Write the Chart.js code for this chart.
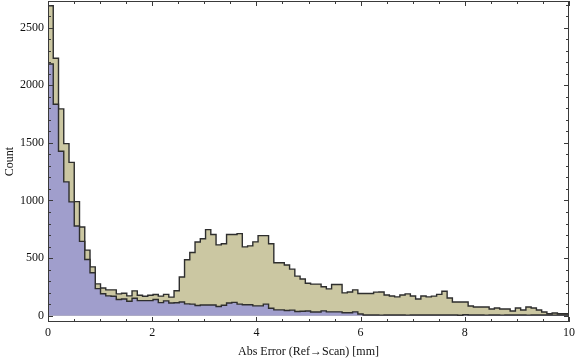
<!DOCTYPE html>
<html>
<head>
<meta charset="utf-8">
<script src="https://cdn.jsdelivr.net/npm/chart.js@4"></script>
<style>
  html, body { margin: 0; padding: 0; background: #fff; }
  canvas { display: block; }
</style>
</head>
<body>
<canvas id="hist" width="576" height="362"></canvas>
<script>
// histogram bins: 100 bins starting at 0
const binWidth = 0.1008;

// total counts (khaki histogram)
const totalCounts = [
  2691, 2235, 1795, 1494, 1331, 990, 770, 569, 424, 276,
  240, 224, 224, 189, 195, 172, 215, 177, 169, 177,
  184, 170, 185, 161, 216, 336, 485, 548, 640, 668,
  747, 705, 615, 625, 705, 705, 712, 597, 606, 641,
  695, 695, 625, 459, 459, 440, 404, 343, 318, 282,
  274, 274, 251, 233, 270, 270, 198, 206, 224, 192,
  192, 192, 204, 206, 180, 171, 163, 180, 189, 171,
  145, 171, 163, 170, 185, 212, 154, 119, 119, 119,
  84, 75, 75, 75, 58, 67, 58, 58, 41, 67,
  49, 75, 67, 49, 32, 17, 23, 17, 17, 17
];

// subset counts (blue histogram)
const subsetCounts = [
  2185, 1835, 1427, 1162, 988, 779, 645, 488, 372, 235,
  190, 172, 168, 140, 145, 125, 151, 131, 131, 131,
  140, 113, 128, 110, 112, 118, 102, 100, 88, 93,
  93, 93, 80, 90, 110, 115, 100, 95, 95, 85,
  85, 100, 65, 50, 50, 45, 48, 36, 38, 40,
  32, 32, 42, 33, 33, 33, 25, 25, 33, 15,
  6, 6, 6, 5, 6, 6, 6, 6, 5, 6,
  6, 6, 6, 6, 6, 6, 6, 6, 3, 8,
  6, 6, 6, 5, 6, 6, 5, 6, 6, 6,
  6, 5, 6, 6, 6, 6, 5, 6, 6, 6
];

const xTicks = [0, 2, 4, 6, 8, 10];
const yTicks = [0, 500, 1000, 1500, 2000, 2500];
const xMinorStep = 0.5;
const yMinorStep = 100;

const serif = '"Liberation Serif", "DejaVu Serif", serif';

// points at bin left edges, plus closing edge so last step extends
function toSteps(counts) {
  const pts = counts.map((c, i) => ({ x: i * binWidth, y: c }));
  pts.push({ x: counts.length * binWidth, y: counts[counts.length - 1] });
  return pts;
}

// frame with inward ticks on all four sides (Mathematica style)
const framePlugin = {
  id: 'frame',
  afterDatasetsDraw(chart) {
    const { ctx, chartArea: a, scales: { x, y } } = chart;
    ctx.save();
    ctx.strokeStyle = '#3a3a3a';
    ctx.lineWidth = 1;
    ctx.strokeRect(a.left + 0.5, a.top + 0.5, a.right - a.left - 1, a.bottom - a.top - 1);

    ctx.beginPath();
    for (let v = 0; v <= 10 + 1e-9; v += xMinorStep) {
      const px = Math.round(x.getPixelForValue(v)) + 0.5;
      const len = xTicks.includes(Math.round(v * 10) / 10) ? 5 : 3;
      ctx.moveTo(px, a.bottom);
      ctx.lineTo(px, a.bottom - len);
      ctx.moveTo(px, a.top);
      ctx.lineTo(px, a.top + len);
    }
    for (let v = 0; v <= 2700; v += yMinorStep) {
      const py = Math.round(y.getPixelForValue(v)) + 0.5;
      const len = yTicks.includes(v) ? 5 : 3;
      ctx.moveTo(a.left, py);
      ctx.lineTo(a.left + len, py);
      ctx.moveTo(a.right, py);
      ctx.lineTo(a.right - len, py);
    }
    ctx.stroke();
    ctx.restore();
  }
};

new Chart(document.getElementById('hist'), {
  type: 'line',
  data: {
    datasets: [
      {
        label: 'subset',
        data: toSteps(subsetCounts),
        stepped: true,
        fill: 'origin',
        backgroundColor: '#a09ecc',
        borderColor: '#2e2e2e',
        borderWidth: 1.4,
        pointRadius: 0,
        order: 0
      },
      {
        label: 'total',
        data: toSteps(totalCounts),
        stepped: true,
        fill: 'origin',
        backgroundColor: '#cbc7a2',
        borderColor: '#2e2e2e',
        borderWidth: 1.4,
        pointRadius: 0,
        order: 1
      }
    ]
  },
  options: {
    responsive: false,
    animation: false,
    layout: { padding: { top: 1, right: 7, left: 0, bottom: 0 } },
    plugins: {
      legend: { display: false },
      tooltip: { enabled: false }
    },
    scales: {
      x: {
        type: 'linear',
        min: 0,
        max: 10,
        grid: { display: false, drawTicks: false },
        border: { display: false },
        afterBuildTicks: (s) => { s.ticks = xTicks.map(v => ({ value: v })); },
        afterFit: (s) => { s.height = 40; s.paddingLeft = 0; s.paddingRight = 0; },
        ticks: {
          padding: 4,
          color: '#111',
          maxRotation: 0,
          callback: (v) => String(v),
          font: { family: serif, size: 12 }
        },
        title: {
          display: true,
          text: 'Abs Error (Ref→Scan) [mm]',
          color: '#111',
          font: { family: serif, size: 12 },
          padding: { top: 0, bottom: 3 }
        }
      },
      y: {
        min: -55,
        max: 2732,
        grid: { display: false, drawTicks: false },
        border: { display: false },
        afterBuildTicks: (s) => { s.ticks = yTicks.map(v => ({ value: v })); },
        afterFit: (s) => { s.width = 48; s.paddingTop = 0; s.paddingBottom = 0; },
        ticks: {
          padding: 4,
          color: '#111',
          callback: (v) => String(v),
          font: { family: serif, size: 12 }
        },
        title: {
          display: true,
          text: 'Count',
          color: '#111',
          font: { family: serif, size: 12 },
          padding: { top: 3, bottom: 0 }
        }
      }
    }
  },
  plugins: [framePlugin]
});
</script>
</body>
</html>
